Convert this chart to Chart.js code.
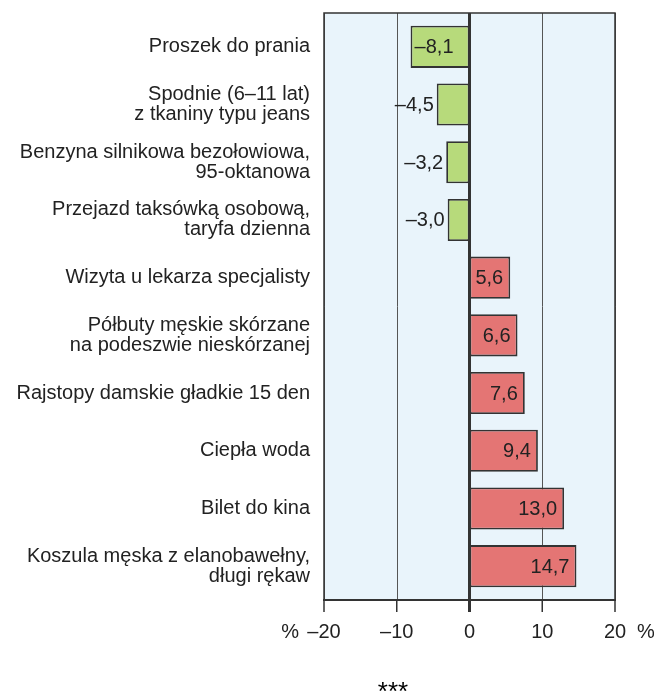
<!DOCTYPE html>
<html lang="pl">
<head>
<meta charset="utf-8">
<script src="https://cdn.jsdelivr.net/npm/chart.js@4"></script>
<style>
  html, body { margin: 0; padding: 0; background: #fff; }
  #wrap { width: 654px; height: 691px; position: relative; }
</style>
</head>
<body>
<div id="wrap"><canvas id="cenyChart" width="654" height="691"></canvas></div>
<script>
// Dane: zmiany cen wybranych towarów i usług (%)
const kategorie = [
  'Proszek do prania',
  ['Spodnie (6–11 lat)', 'z tkaniny typu jeans'],
  ['Benzyna silnikowa bezołowiowa,', '95-oktanowa'],
  ['Przejazd taksówką osobową,', 'taryfa dzienna'],
  'Wizyta u lekarza specjalisty',
  ['Półbuty męskie skórzane', 'na podeszwie nieskórzanej'],
  'Rajstopy damskie gładkie 15 den',
  'Ciepła woda',
  'Bilet do kina',
  ['Koszula męska z elanobawełny,', 'długi rękaw']
];
const zmiany = [-8.1, -4.5, -3.2, -3.0, 5.6, 6.6, 7.6, 9.4, 13.0, 14.7];
const osX = [-20, -10, 0, 10, 20];

const ZIELONY = '#b7da7b';
const CZERWONY = '#e47574';
const TEKST = '#222';
const FONT = '"Liberation Sans", Arial, sans-serif';

function fmt(v) {
  return v.toFixed(1).replace('.', ',').replace('-', '–');
}

// tło wykresu, linie siatki, oś i etykiety wartości
const tloPlugin = {
  id: 'tlo',
  beforeDatasetsDraw(chart) {
    const { ctx, chartArea: a, scales: { x } } = chart;
    const top = a.top - 5, bottom = a.bottom + 5;
    const l = x.getPixelForValue(osX[0]), r = x.getPixelForValue(osX[osX.length - 1]);
    ctx.save();
    ctx.fillStyle = '#e9f4fb';
    ctx.fillRect(l, top, r - l, bottom - top);
    ctx.strokeStyle = '#555';
    ctx.lineWidth = 1;
    osX.forEach(v => {
      if (v === 0) return;
      const px = Math.round(x.getPixelForValue(v)) + 0.5;
      ctx.beginPath(); ctx.moveTo(px, top); ctx.lineTo(px, bottom); ctx.stroke();
    });
    ctx.strokeStyle = '#333';
    ctx.lineWidth = 1.5;
    ctx.beginPath();
    ctx.moveTo(l, bottom); ctx.lineTo(l, top); ctx.lineTo(r, top); ctx.lineTo(r, bottom);
    ctx.stroke();
    ctx.restore();
  },
  afterDatasetsDraw(chart) {
    const { ctx, chartArea: a, scales: { x } } = chart;
    const top = a.top - 5, bottom = a.bottom + 5;
    const l = x.getPixelForValue(osX[0]), r = x.getPixelForValue(osX[osX.length - 1]);
    const x0 = x.getPixelForValue(0);
    ctx.save();
    ctx.strokeStyle = '#333';
    ctx.lineWidth = 3;
    ctx.beginPath(); ctx.moveTo(x0, top); ctx.lineTo(x0, bottom + 12); ctx.stroke();
    ctx.lineWidth = 2;
    ctx.beginPath(); ctx.moveTo(l - 1, bottom); ctx.lineTo(r + 1, bottom); ctx.stroke();
    ctx.lineWidth = 1.5;
    osX.forEach(v => {
      const px = x.getPixelForValue(v);
      ctx.beginPath(); ctx.moveTo(px, bottom); ctx.lineTo(px, bottom + 12); ctx.stroke();
    });

    // etykiety wartości
    ctx.font = '20px ' + FONT;
    ctx.fillStyle = TEKST;
    ctx.textBaseline = 'middle';
    const meta = chart.getDatasetMeta(0);
    meta.data.forEach((bar, i) => {
      const v = zmiany[i];
      const txt = fmt(v);
      const w = ctx.measureText(txt).width;
      if (v >= 0) {
        ctx.textAlign = 'right';
        ctx.fillText(txt, bar.x - 7, bar.y + 1);
      } else if (bar.base - bar.x > w + 8) {
        ctx.textAlign = 'left';
        ctx.fillText(txt, bar.x + 4, bar.y + 1);
      } else {
        ctx.textAlign = 'right';
        ctx.fillText(txt, bar.x - 3, bar.y + 1);
      }
    });

    // znaki % przy osi i gwiazdki
    const yLab = bottom + 32;
    ctx.textAlign = 'right';
    ctx.fillText('%', l - 25, yLab);
    ctx.textAlign = 'left';
    ctx.fillText('%', r + 22, yLab);
    ctx.font = '26px ' + FONT;
    ctx.fillStyle = '#000';
    ctx.textAlign = 'center';
    ctx.textBaseline = 'top';
    ctx.fillText('***', 393, 680);
    ctx.restore();
  }
};

new Chart(document.getElementById('cenyChart'), {
  type: 'bar',
  data: {
    labels: kategorie,
    datasets: [{
      data: zmiany,
      backgroundColor: zmiany.map(v => v < 0 ? ZIELONY : CZERWONY),
      borderColor: '#333',
      borderWidth: 1.8,
      borderSkipped: false,
      barPercentage: 0.73,
      categoryPercentage: 1
    }]
  },
  options: {
    indexAxis: 'y',
    responsive: false,
    animation: false,
    layout: { padding: { left: 0, right: 39, top: 18, bottom: 36 } },
    plugins: { legend: { display: false }, tooltip: { enabled: false } },
    scales: {
      x: {
        type: 'linear',
        min: -20,
        max: 20,
        afterBuildTicks: s => { s.ticks = osX.map(v => ({ value: v })); },
        afterFit: s => { s.height = 60; s.paddingLeft = 0; s.paddingRight = 0; },
        grid: { display: false },
        border: { display: false },
        ticks: {
          padding: 17,
          color: TEKST,
          font: { family: FONT, size: 20 },
          callback: v => String(v).replace('-', '–')
        }
      },
      y: {
        afterFit: s => { s.width = 324; s.paddingTop = 0; s.paddingBottom = 0; },
        grid: { display: false },
        border: { display: false },
        ticks: {
          padding: 6,
          color: TEKST,
          font: { family: FONT, size: 20, lineHeight: 1.0 }
        }
      }
    }
  },
  plugins: [tloPlugin]
});
</script>
</body>
</html>
